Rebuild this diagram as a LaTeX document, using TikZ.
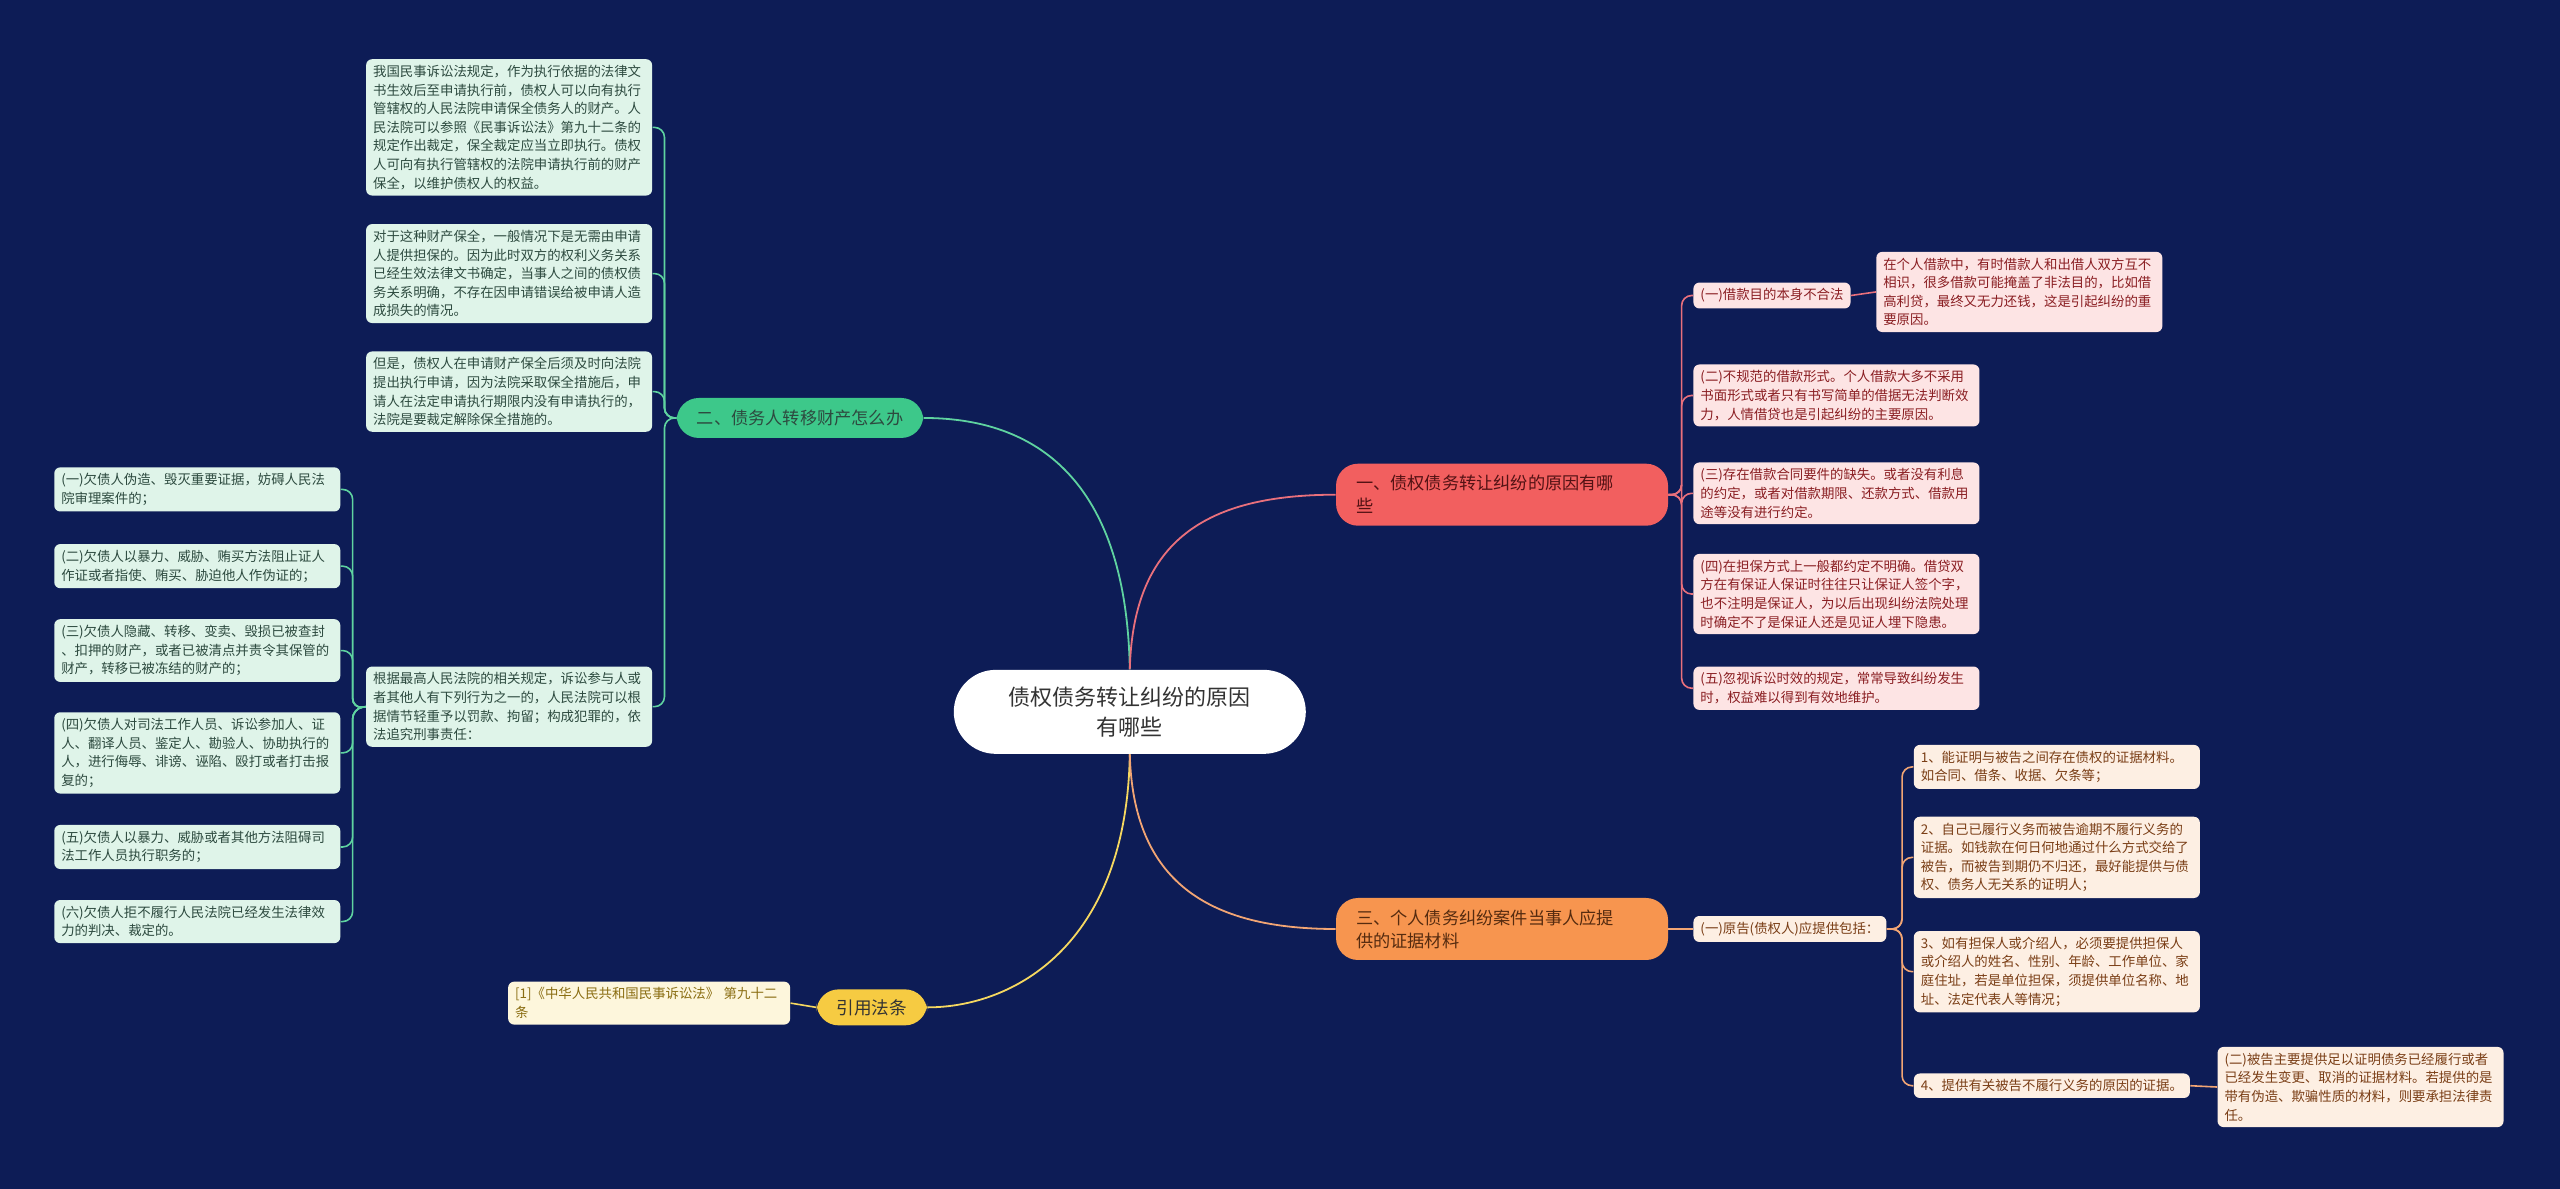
\documentclass[tikz,border=0pt]{standalone}
\usepackage{fontspec}
\setmainfont{Noto Sans CJK SC}
\definecolor{bg}{HTML}{0D1C56}
\definecolor{gline}{HTML}{5FD3A0}\definecolor{gfill}{HTML}{DFF4E9}\definecolor{gtext}{HTML}{2D4A3F}
\definecolor{rline}{HTML}{E9707C}\definecolor{rfill}{HTML}{FDE4E4}\definecolor{rtext}{HTML}{8A1E22}
\definecolor{oline}{HTML}{F2A574}\definecolor{ofill}{HTML}{FDEFE3}\definecolor{otext}{HTML}{7A3E16}
\definecolor{yline}{HTML}{F6D860}\definecolor{yfill}{HTML}{FDF6DC}\definecolor{ytext}{HTML}{8A6D12}
\definecolor{rbr}{HTML}{F25F5F}\definecolor{obr}{HTML}{F7954F}\definecolor{gbr}{HTML}{3DC88A}\definecolor{ybr}{HTML}{F6CB42}
\begin{document}
\begin{tikzpicture}[x=0.8163pt,y=-0.8163pt,
  leaf/.style={rounded corners=3pt,inner xsep=3.5pt,inner ysep=3pt,align=left,font=\fontsize{6.7pt}{9.3pt}\selectfont,anchor=north west},
  wleaf/.style={leaf,text width=136pt},
  gl/.style={wleaf,fill=gfill,text=gtext},
  rl/.style={wleaf,fill=rfill,text=rtext},
  ol/.style={wleaf,fill=ofill,text=otext},
  br/.style={rounded corners=11pt,align=left,font=\fontsize{8.6pt}{11.5pt}\selectfont,inner xsep=10pt,inner ysep=4pt},
  con/.style={line width=0.8pt,rounded corners=5pt}]
\fill[bg] (0,0) rectangle (1568,728);
\useasboundingbox (0,0) rectangle (1568,728);
% root
\node[fill=white,rounded corners=21pt,minimum width=176pt,minimum height=42pt,align=center,font=\fontsize{11pt}{15pt}\selectfont,text=black!80] (root) at (692,436) {债权债务转让纠纷的原因\\有哪些};
% branches
\node[br,fill=rbr,text=rtext!60!black,minimum width=166pt,minimum height=31pt,text width=146pt] (b1) at (920,303) {一、债权债务转让纠纷的原因有哪\\些};
\node[br,fill=obr,text=otext!70!black,minimum width=166pt,minimum height=31pt,text width=146pt] (b3) at (920,569) {三、个人债务纠纷案件当事人应提\\供的证据材料};
\node[br,fill=gbr,text=gtext,minimum height=20pt] (b2) at (490,256) {二、债务人转移财产怎么办};
\node[br,fill=ybr,text=black!80,minimum height=18pt,font=\fontsize{8.8pt}{11pt}\selectfont] (b4) at (534,617) {引用法条};
\draw[gline,line width=0.9pt] (root.north) .. controls (690,300) and (640,256) .. (b2.east);
\draw[rline,line width=0.9pt] (root.north) .. controls (694,330) and (740,303) .. (b1.west);
\draw[yline,line width=0.9pt] (root.south) .. controls (690,580) and (620,617) .. (b4.east);
\draw[oline,line width=0.9pt] (root.south) .. controls (694,540) and (740,569) .. (b3.west);
% green
\node[gl] (g1) at (224,36) {我国民事诉讼法规定，作为执行依据的法律文\\书生效后至申请执行前，债权人可以向有执行\\管辖权的人民法院申请保全债务人的财产。人\\民法院可以参照《民事诉讼法》第九十二条的\\规定作出裁定，保全裁定应当立即执行。债权\\人可向有执行管辖权的法院申请执行前的财产\\保全，以维护债权人的权益。};
\node[gl] (g2) at (224,137) {对于这种财产保全，一般情况下是无需由申请\\人提供担保的。因为此时双方的权利义务关系\\已经生效法律文书确定，当事人之间的债权债\\务关系明确，不存在因申请错误给被申请人造\\成损失的情况。};
\node[gl] (g3) at (224,215) {但是，债权人在申请财产保全后须及时向法院\\提出执行申请，因为法院采取保全措施后，申\\请人在法定申请执行期限内没有申请执行的，\\法院是要裁定解除保全措施的。};
\node[gl] (g4) at (224,408) {根据最高人民法院的相关规定，诉讼参与人或\\者其他人有下列行为之一的，人民法院可以根\\据情节轻重予以罚款、拘留；构成犯罪的，依\\法追究刑事责任：};
\foreach \n in {g1,g2,g3,g4}{\draw[gline,con] (b2.west) -- (407,256) |- (\n.east);}
\node[gl] (l1) at (33,286) {(一)欠债人伪造、毁灭重要证据，妨碍人民法\\院审理案件的；};
\node[gl] (l2) at (33,333) {(二)欠债人以暴力、威胁、贿买方法阻止证人\\作证或者指使、贿买、胁迫他人作伪证的；};
\node[gl] (l3) at (33,379) {(三)欠债人隐藏、转移、变卖、毁损已被查封\\、扣押的财产，或者已被清点并责令其保管的\\财产，转移已被冻结的财产的；};
\node[gl] (l4) at (33,436) {(四)欠债人对司法工作人员、诉讼参加人、证\\人、翻译人员、鉴定人、勘验人、协助执行的\\人，进行侮辱、诽谤、诬陷、殴打或者打击报\\复的；};
\node[gl] (l5) at (33,505) {(五)欠债人以暴力、威胁或者其他方法阻碍司\\法工作人员执行职务的；};
\node[gl] (l6) at (33,551) {(六)欠债人拒不履行人民法院已经发生法律效\\力的判决、裁定的。};
\foreach \n in {l1,l2,l3,l4,l5,l6}{\draw[gline,con] (g4.west) -- (216,434) |- (\n.east);}
% red
\node[leaf,fill=rfill,text=rtext,anchor=west] (r1) at (1037,181) {(一)借款目的本身不合法};
\node[rl] (r1a) at (1149,154) {在个人借款中，有时借款人和出借人双方互不\\相识，很多借款可能掩盖了非法目的，比如借\\高利贷，最终又无力还钱，这是引起纠纷的重\\要原因。};
\node[rl] (r2) at (1037,223) {(二)不规范的借款形式。个人借款大多不采用\\书面形式或者只有书写简单的借据无法判断效\\力，人情借贷也是引起纠纷的主要原因。};
\node[rl] (r3) at (1037,283) {(三)存在借款合同要件的缺失。或者没有利息\\的约定，或者对借款期限、还款方式、借款用\\途等没有进行约定。};
\node[rl] (r4) at (1037,339) {(四)在担保方式上一般都约定不明确。借贷双\\方在有保证人保证时往往只让保证人签个字，\\也不注明是保证人，为以后出现纠纷法院处理\\时确定不了是保证人还是见证人埋下隐患。};
\node[rl] (r5) at (1037,408) {(五)忽视诉讼时效的规定，常常导致纠纷发生\\时，权益难以得到有效地维护。};
\foreach \n in {r1,r2,r3,r4,r5}{\draw[rline,con] (b1.east) -- (1030,303) |- (\n.west);}
\draw[rline,line width=0.8pt] (r1.east) -- (r1a.west);
% orange
\node[leaf,fill=ofill,text=otext,anchor=west] (o1) at (1037,569) {(一)原告(债权人)应提供包括：};
\draw[oline,line width=0.8pt] (b3.east) -- (o1.west);
\node[ol] (o1a) at (1172,456) {1、能证明与被告之间存在债权的证据材料。\\如合同、借条、收据、欠条等；};
\node[ol] (o2) at (1172,500) {2、自己已履行义务而被告逾期不履行义务的\\证据。如钱款在何日何地通过什么方式交给了\\被告，而被告到期仍不归还，最好能提供与债\\权、债务人无关系的证明人；};
\node[ol] (o3) at (1172,570) {3、如有担保人或介绍人，必须要提供担保人\\或介绍人的姓名、性别、年龄、工作单位、家\\庭住址，若是单位担保，须提供单位名称、地\\址、法定代表人等情况；};
\node[leaf,fill=ofill,text=otext,anchor=west] (o4) at (1172,665) {4、提供有关被告不履行义务的原因的证据。};
\node[ol] (o5) at (1358,641) {(二)被告主要提供足以证明债务已经履行或者\\已经发生变更、取消的证据材料。若提供的是\\带有伪造、欺骗性质的材料，则要承担法律责\\任。};
\foreach \n in {o1a,o2,o3,o4}{\draw[oline,con] (o1.east) -- (1165,569) |- (\n.west);}
\draw[oline,line width=0.8pt] (o4.east) -- (o5.west);
% yellow
\node[leaf,fill=yfill,text=ytext,text width=134pt] (y1) at (311,601) {[1]《中华人民共和国民事诉讼法》 第九十二\\条};
\draw[yline,line width=0.8pt] (b4.west) -- (y1.east);
\end{tikzpicture}
\end{document}
